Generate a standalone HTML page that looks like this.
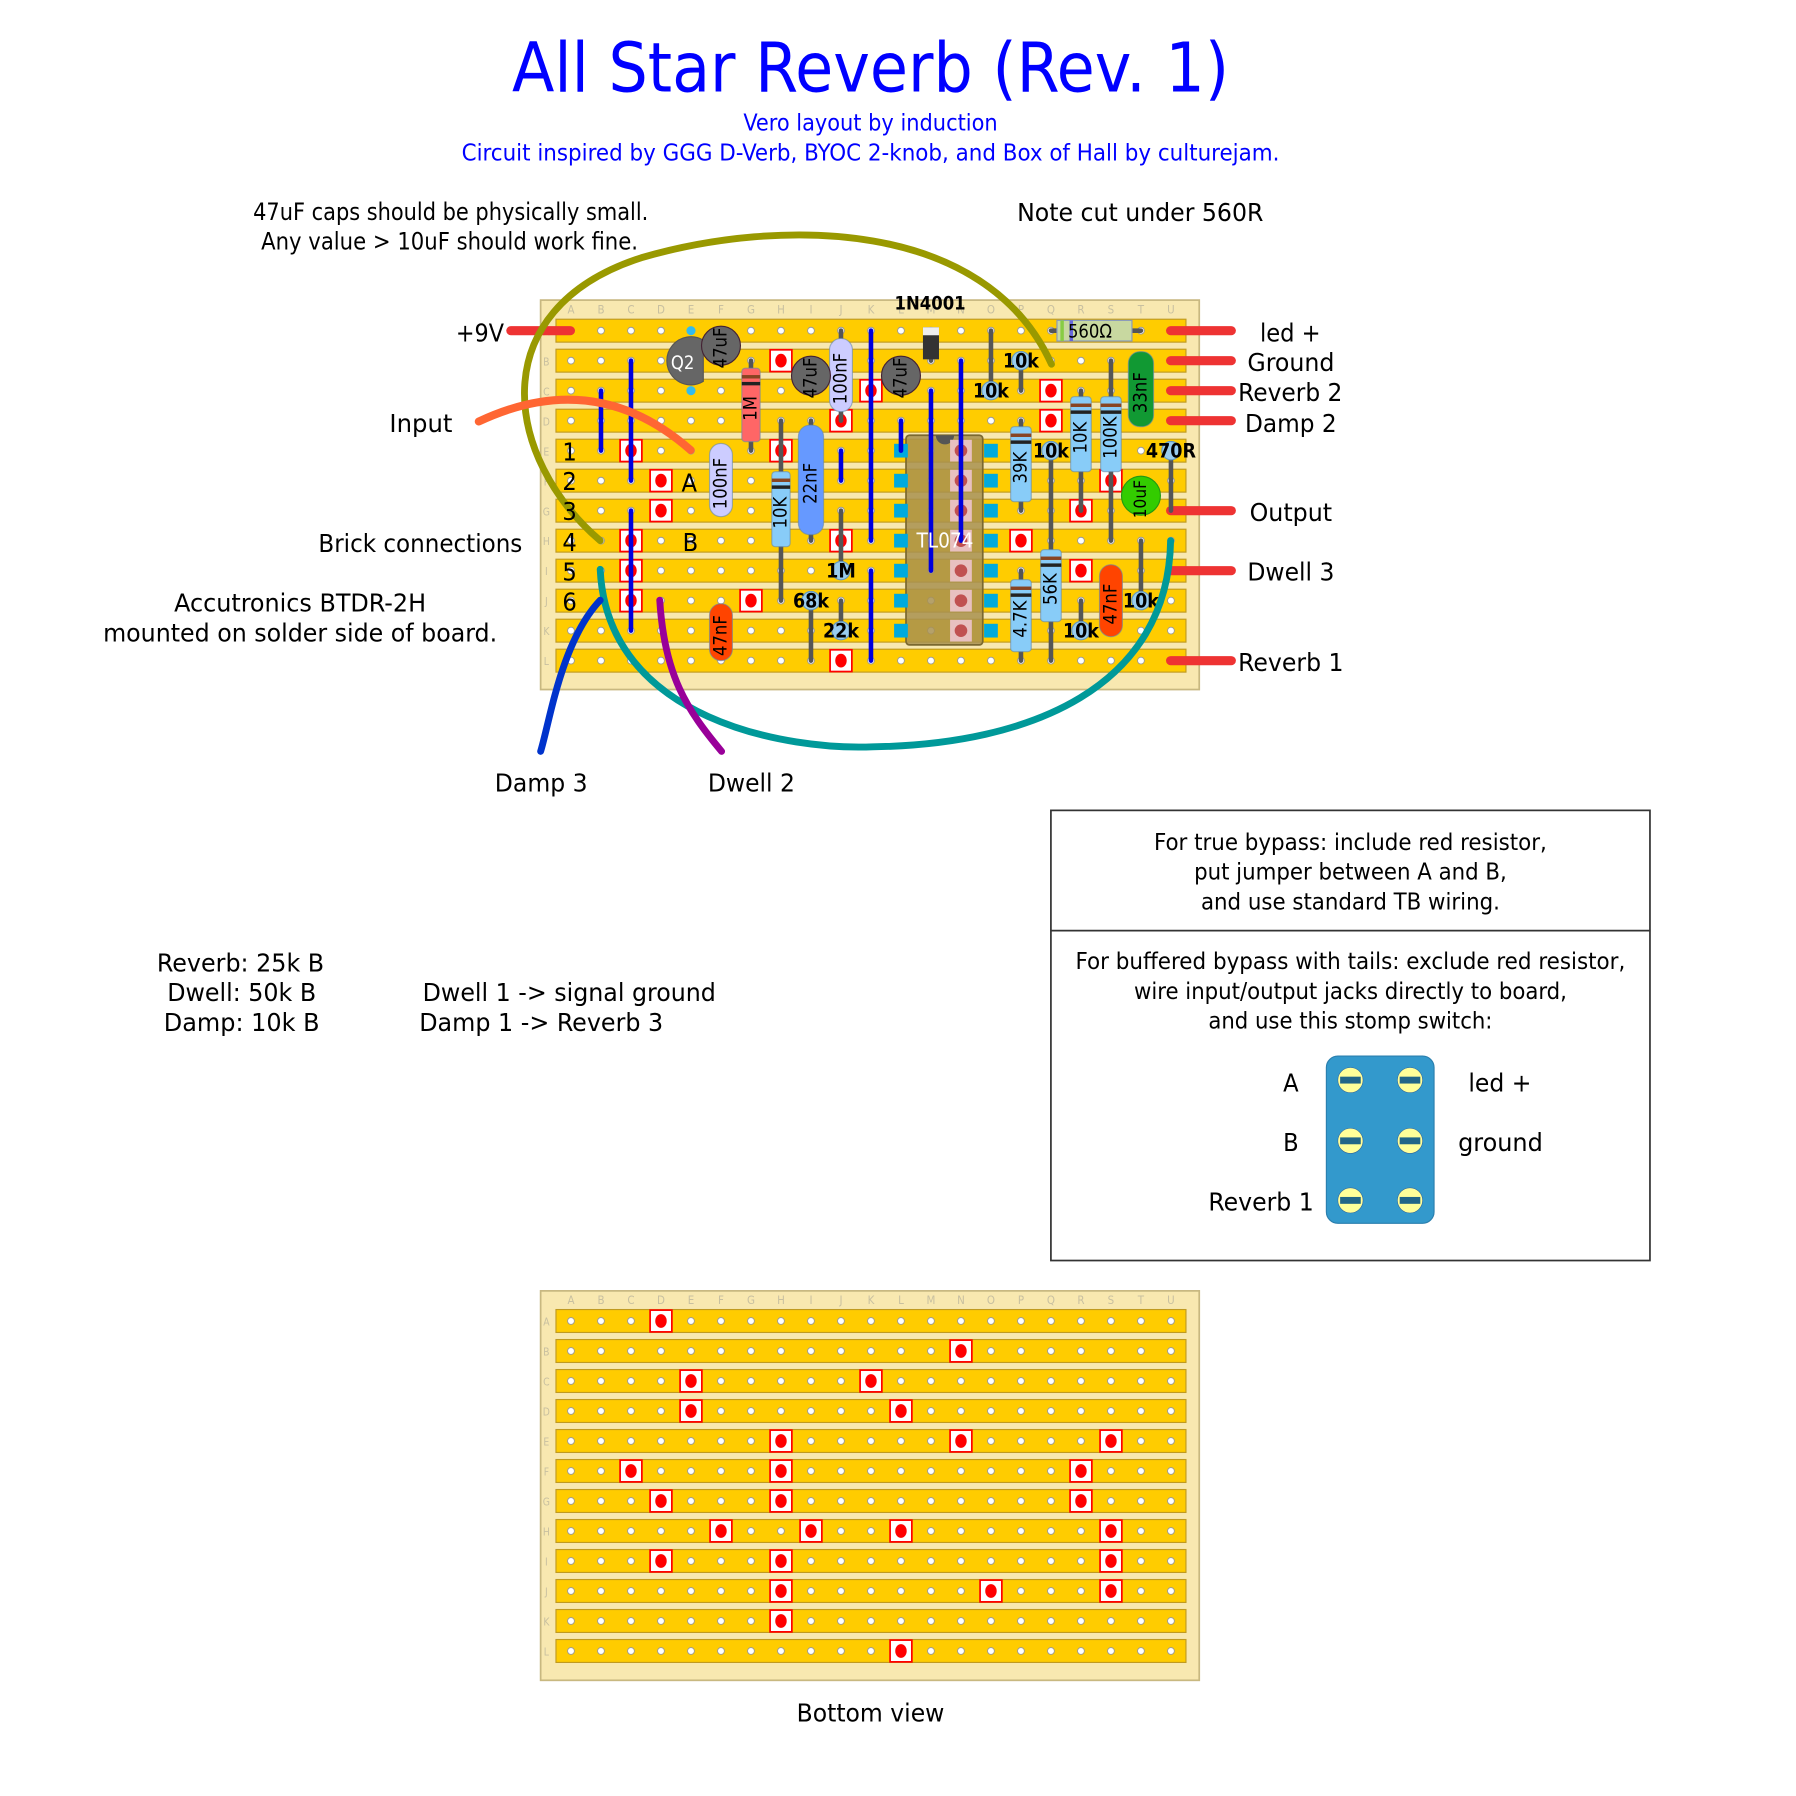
<!DOCTYPE html>
<html><head><meta charset="utf-8"><style>
html,body{margin:0;padding:0;background:#fff}
svg{display:block}
text{font-family:"DejaVu Sans Condensed","Liberation Sans",sans-serif}
</style></head><body>
<svg id="s" xmlns="http://www.w3.org/2000/svg" width="1796" height="1796" viewBox="0 0 1568 1568">
<rect width="1568" height="1568" fill="#fff"/>
<g id="comps"></g>
<g id="texts" fill="#000" font-size="22">
<text x="760" y="80" font-size="60" fill="#0000ff" text-anchor="middle" textLength="626" lengthAdjust="spacingAndGlyphs">All Star Reverb (Rev. 1)</text>
<text x="760" y="114" font-size="20" fill="#0000ff" text-anchor="middle" textLength="222" lengthAdjust="spacingAndGlyphs">Vero layout by induction</text>
<text x="760" y="140" font-size="20" fill="#0000ff" text-anchor="middle" textLength="714" lengthAdjust="spacingAndGlyphs">Circuit inspired by GGG D-Verb, BYOC 2-knob, and Box of Hall by culturejam.</text>
<text x="221" y="192" font-size="21" textLength="345" lengthAdjust="spacingAndGlyphs">47uF caps should be physically small.</text>
<text x="228" y="218" font-size="21" textLength="329" lengthAdjust="spacingAndGlyphs">Any value &gt; 10uF should work fine.</text>
<text x="888" y="193" textLength="215" lengthAdjust="spacingAndGlyphs">Note cut under 560R</text>
<text x="398" y="298" textLength="42" lengthAdjust="spacingAndGlyphs">+9V</text>
<text x="340" y="377" textLength="55" lengthAdjust="spacingAndGlyphs">Input</text>
<text x="278" y="482" textLength="178" lengthAdjust="spacingAndGlyphs">Brick connections</text>
<text x="152" y="534" textLength="220" lengthAdjust="spacingAndGlyphs">Accutronics BTDR-2H</text>
<text x="90" y="560" textLength="344" lengthAdjust="spacingAndGlyphs">mounted on solder side of board.</text>
<text x="491" y="402">1</text><text x="491" y="428">2</text><text x="491" y="454">3</text>
<text x="491" y="481">4</text><text x="491" y="507">5</text><text x="491" y="533">6</text>
<text x="595" y="429">A</text><text x="596" y="481">B</text>
<text x="1100" y="298" textLength="53" lengthAdjust="spacingAndGlyphs">led +</text>
<text x="1089" y="324" textLength="76" lengthAdjust="spacingAndGlyphs">Ground</text>
<text x="1081" y="350" textLength="91" lengthAdjust="spacingAndGlyphs">Reverb 2</text>
<text x="1087" y="377" textLength="80" lengthAdjust="spacingAndGlyphs">Damp 2</text>
<text x="1091" y="455" textLength="72" lengthAdjust="spacingAndGlyphs">Output</text>
<text x="1089" y="507" textLength="76" lengthAdjust="spacingAndGlyphs">Dwell 3</text>
<text x="1081" y="586" textLength="92" lengthAdjust="spacingAndGlyphs">Reverb 1</text>
<text x="432" y="691" textLength="81" lengthAdjust="spacingAndGlyphs">Damp 3</text>
<text x="618" y="691" textLength="76" lengthAdjust="spacingAndGlyphs">Dwell 2</text>
<text x="137" y="848" textLength="146" lengthAdjust="spacingAndGlyphs">Reverb: 25k B</text>
<text x="146" y="874" textLength="130" lengthAdjust="spacingAndGlyphs">Dwell: 50k B</text>
<text x="143" y="900" textLength="136" lengthAdjust="spacingAndGlyphs">Damp: 10k B</text>
<text x="369" y="874" textLength="256" lengthAdjust="spacingAndGlyphs">Dwell 1 -&gt; signal ground</text>
<text x="366" y="900" textLength="213" lengthAdjust="spacingAndGlyphs">Damp 1 -&gt; Reverb 3</text>
<text x="760" y="1503" text-anchor="middle" textLength="129" lengthAdjust="spacingAndGlyphs">Bottom view</text>
</g>
<g>
<rect x="917.5" y="707.5" width="523" height="393" fill="none" stroke="#333" stroke-width="1.5"/>
<line x1="917" y1="812.5" x2="1441" y2="812.5" stroke="#333" stroke-width="1.5"/>
<g font-size="20" text-anchor="middle">
<text x="1179" y="742" textLength="343" lengthAdjust="spacingAndGlyphs">For true bypass: include red resistor,</text>
<text x="1179" y="768" textLength="273" lengthAdjust="spacingAndGlyphs">put jumper between A and B,</text>
<text x="1179" y="794" textLength="261" lengthAdjust="spacingAndGlyphs">and use standard TB wiring.</text>
<text x="1179" y="846" textLength="480" lengthAdjust="spacingAndGlyphs">For buffered bypass with tails: exclude red resistor,</text>
<text x="1179" y="872" textLength="378" lengthAdjust="spacingAndGlyphs">wire input/output jacks directly to board,</text>
<text x="1179" y="898" textLength="248" lengthAdjust="spacingAndGlyphs">and use this stomp switch:</text>
</g>
<rect x="1158" y="922" width="94" height="146" rx="10" fill="#3399cc" stroke="#2a7fae"/>
<g id="lugs"></g>
<g font-size="22">
<text x="1127" y="953" text-anchor="middle">A</text>
<text x="1127" y="1005" text-anchor="middle">B</text>
<text x="1147" y="1057" text-anchor="end" textLength="92" lengthAdjust="spacingAndGlyphs">Reverb 1</text>
<text x="1282" y="953" textLength="55" lengthAdjust="spacingAndGlyphs">led +</text>
<text x="1273" y="1005" textLength="74" lengthAdjust="spacingAndGlyphs">ground</text>
</g>
</g>
</svg>
<script>
(function(){
var X=function(c){return 498.5+26.19*c}, Y=function(r){return 288.7+26.19*r};
var L="ABCDEFGHIJKLMNOPQRSTU";
function board(y0,top){
 var s='<rect x="472" y="'+top+'" width="575" height="340" fill="#f8e8b0" stroke="#c8b880" stroke-width="1.5"/>';
 for(var c=0;c<21;c++) s+='<text x="'+X(c)+'" y="'+(y0-15)+'" font-size="10" fill="#c8c0a0" text-anchor="middle">'+L[c]+'</text>';
 for(var r=0;r<12;r++){
  var y=y0+26.19*r;
  s+='<text x="477" y="'+(y+4)+'" font-size="9" fill="#c8c0a0" text-anchor="middle">'+L[r]+'</text>';
  s+='<rect x="485.4" y="'+(y-10)+'" width="550" height="20" fill="#ffcc00" stroke="#c09a20" stroke-width="1"/>';
  for(var c=0;c<21;c++) s+='<circle cx="'+X(c)+'" cy="'+y+'" r="3" fill="#fff" stroke="#999" stroke-width="0.8"/>';
 }
 return s;
}
function cut(x,y,pale){
 if(pale) return '<rect x="'+(x-9.5)+'" y="'+(y-9.5)+'" width="19" height="19" fill="#e8c0c0"/><circle cx="'+x+'" cy="'+y+'" r="5.5" fill="#c05050"/>';
 return '<rect x="'+(x-9.5)+'" y="'+(y-9.5)+'" width="19" height="19" fill="#fff" stroke="#f00" stroke-width="1.5"/><ellipse cx="'+x+'" cy="'+y+'" rx="5" ry="6" fill="#f00"/>';
}
var s=board(288.7,262)+board(1153.3,1127);
var bc=[[0,3],[1,13],[2,4],[2,10],[3,4],[3,11],[4,7],[4,13],[4,18],[5,2],[5,7],[5,17],[6,3],[6,7],[6,17],[7,5],[7,8],[7,11],[7,18],[8,3],[8,7],[8,18],[9,7],[9,14],[9,18],[10,7],[11,11]];
bc.forEach(function(a){s+=cut(X(a[1]),1153.3+26.19*a[0]);});
var tc=[[1,7],[2,10],[2,16],[3,9],[3,16],[4,2],[4,7],[5,3],[5,18],[6,3],[6,17],[7,2],[7,9],[7,15],[8,2],[8,17],[9,2],[9,6],[11,9]];
tc.forEach(function(a){s+=cut(X(a[1]),Y(a[0]));});
function pad(x1,x2,y){return '<line x1="'+x1+'" y1="'+y+'" x2="'+x2+'" y2="'+y+'" stroke="#ee3333" stroke-width="8" stroke-linecap="round"/>';}
s+=pad(446,498,Y(0));
[0,1,2,3,6,8,11].forEach(function(r){s+=pad(1022,1075,Y(r));});
s+='<rect x="791" y="380" width="67" height="183" rx="3" fill="#a89050" fill-opacity="0.85" stroke="#7a6830" stroke-width="1.5"/>';
s+='<path d="M817 380 A8 8 0 0 0 833 380 Z" fill="#555"/>';
for(var r=4;r<=10;r++){
 s+='<rect x="'+(X(11)-6)+'" y="'+(Y(r)-6)+'" width="12" height="12" fill="#00aadd"/>';
 s+='<rect x="'+(X(14)-6)+'" y="'+(Y(r)-6)+'" width="12" height="12" fill="#00aadd"/>';
 s+=cut(X(13),Y(r),true);
}
[[2,1,5],[1,2,4],[2,6,10],[9,4,5],[10,0,7],[10,8,11],[11,3,4],[12,2,8],[13,1,7]].forEach(function(a){
 s+='<line x1="'+X(a[0])+'" y1="'+Y(a[1])+'" x2="'+X(a[0])+'" y2="'+Y(a[2])+'" stroke="#0000dd" stroke-width="4" stroke-linecap="round"/>';
});
s+='<text x="825" y="478" font-size="18" fill="#fff" text-anchor="middle">TL074</text>';
function lead(c,r1,r2){return '<line x1="'+X(c)+'" y1="'+Y(r1)+'" x2="'+X(c)+'" y2="'+Y(r2)+'" stroke="#555" stroke-width="4" stroke-linecap="round"/>';}
function vtext(x,y,t,fs,col){return '<text x="'+x+'" y="'+y+'" font-size="'+fs+'" fill="'+(col||'#000')+'" text-anchor="middle" dominant-baseline="central" transform="rotate(-90 '+x+' '+y+')">'+t+'</text>';}
var ax=[[6,1,4,1.25,3.7,'#ff6666','1M',16,3],[7,3,9,4.7,7.2,'#88ccf8','10K',16,3],[8,3,7,3.15,6.8,'#6699ff','22nF',22,10],
 [5,null,null,3.76,6.2,'#ccccff','100nF',20,10],[9,0,3,0.26,2.7,'#ccccff','100nF',20,10],[15,3,6,3.2,5.7,'#88ccf8','39K',18,3],
 [17,2,6,2.2,4.7,'#88ccf8','10K',18,3],[18,1,7,2.2,4.7,'#88ccf8','100K',18,3],[19,null,null,0.7,3.2,'#119933','33nF',22,10],
 [16,6,11,7.3,9.7,'#88ccf8','56K',18,3],[15,8,11,8.3,10.7,'#88ccf8','4.7K',18,3],[18,null,null,7.8,10.2,'#ff4400','47nF',20,10],
 [5,null,null,9.1,11.0,'#ff4400','47nF',20,10]];
ax.forEach(function(a){
 if(a[1]!==null) s+=lead(a[0],a[1],a[2]);
 var x=X(a[0]),w=a[7],y1=Y(a[3]),y2=Y(a[4]);
 s+='<rect x="'+(x-w/2)+'" y="'+y1+'" width="'+w+'" height="'+(y2-y1)+'" rx="'+a[8]+'" fill="'+a[5]+'" stroke="#6688aa" stroke-opacity="0.6" stroke-width="1"/>';
 if(a[8]==3){ s+='<rect x="'+(x-w/2)+'" y="'+(y1+6)+'" width="'+w+'" height="3" fill="#884422"/><rect x="'+(x-w/2)+'" y="'+(y1+12)+'" width="'+w+'" height="3" fill="#222"/>'; }
 s+=vtext(x,(y1+y2)/2+3,a[6],16,'#000');
});
s+='<line x1="'+X(16)+'" y1="'+Y(0)+'" x2="'+X(19)+'" y2="'+Y(0)+'" stroke="#555" stroke-width="4" stroke-linecap="round"/>';
s+='<rect x="'+X(16.2)+'" y="'+(Y(0)-9)+'" width="'+(X(18.7)-X(16.2))+'" height="18" fill="#c8d8a0" stroke="#8899bb" stroke-width="1"/>';
s+='<rect x="'+(X(16.2)+3)+'" y="'+(Y(0)-9)+'" width="3" height="18" fill="#88cc44"/><rect x="'+(X(16.2)+11)+'" y="'+(Y(0)-9)+'" width="3" height="18" fill="#6666dd"/>';
s+='<text x="'+X(17.3)+'" y="'+(Y(0)+6)+'" font-size="16" text-anchor="middle">560Ω</text>';
s+=lead(12,0,1)+'<rect x="'+(X(12)-7)+'" y="'+(Y(0)-3)+'" width="14" height="28" fill="#333"/><rect x="'+(X(12)-7)+'" y="'+(Y(0)-3)+'" width="14" height="7" fill="#eee"/>';
s+='<text x="812" y="270" font-size="16" font-weight="bold" text-anchor="middle">1N4001</text>';
// Q2: circle with flat right side
s+='<path d="M614 297 A21 21 0 1 0 614 333 Z" fill="#666" stroke="#555"/>';
s+='<text x="596" y="322" font-size="16" fill="#fff" text-anchor="middle">Q2</text>';
s+='<circle cx="'+X(4)+'" cy="'+Y(0)+'" r="4" fill="#33bbee"/><circle cx="'+X(4)+'" cy="'+Y(2)+'" r="4" fill="#33bbee"/>';
[[5,0.5],[8,1.5],[11,1.5]].forEach(function(a){
 s+='<circle cx="'+X(a[0])+'" cy="'+Y(a[1])+'" r="17" fill="#666" stroke="#442233" stroke-width="1"/>'+vtext(X(a[0]),Y(a[1])+2,'47uF',16,'#000');
});
s+='<circle cx="'+X(19)+'" cy="'+Y(5.5)+'" r="17" fill="#33cc00" stroke="#229911"/>'+vtext(X(19),Y(5.5)+3,'10uF',15,'#000');
[[14,0,2,2,'10k'],[15,1,2,1,'10k'],[16,4,6,4,'10k'],[20,4,6,4,'470R'],[17,9,10,10,'10k'],[19,7,9,9,'10k'],[8,9,11,9,'68k'],[9,9,10,10,'22k'],[9,6,8,8,'1M']].forEach(function(a){
 s+=lead(a[0],a[1],a[2])+'<circle cx="'+X(a[0])+'" cy="'+Y(a[3])+'" r="8" fill="#99ccee" stroke="#6699bb"/>';
 s+='<text x="'+X(a[0])+'" y="'+(Y(a[3])+6)+'" font-size="17" font-weight="bold" text-anchor="middle">'+a[4]+'</text>';
});
function w(d,c,sw){return '<path d="'+d+'" fill="none" stroke="'+c+'" stroke-width="'+(sw||6)+'" stroke-linecap="round"/>';}
s+=w('M524 472 C440 400,420 270,560 225 C680 190,860 190,918 318','#999900',6);
s+=w('M418 368 Q520 320 603 393','#ff6633',7);
s+=w('M524 497 C530 630,690 655,762 652 C900 650,1020 600,1022 472','#009999',6);
s+=w('M524 524 C490 560,480 630,472 656','#0033cc',6);
s+=w('M576 524 C580 590,600 620,630 656','#990099',6);
document.getElementById('comps').innerHTML=s;
var lg='';
[[1179,943],[1231,943],[1179,996],[1231,996],[1179,1048],[1231,1048]].forEach(function(p){
 lg+='<circle cx="'+p[0]+'" cy="'+p[1]+'" r="11" fill="#ffff99" stroke="#336699" stroke-width="0.5"/><rect x="'+(p[0]-9)+'" y="'+(p[1]-3)+'" width="18" height="6" fill="#226688"/>';
});
document.getElementById('lugs').innerHTML=lg;
})();
</script>
</body></html>
